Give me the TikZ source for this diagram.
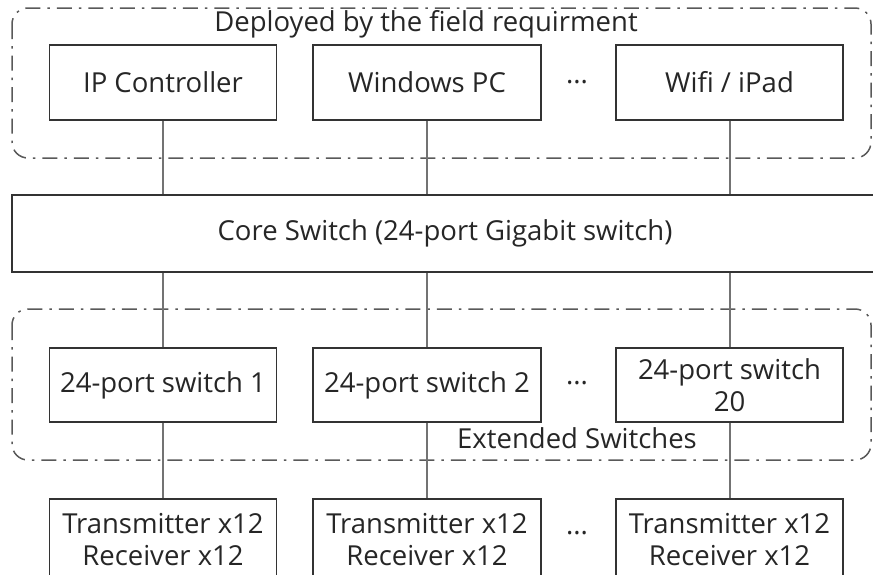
\documentclass[tikz,border=0pt]{standalone}
\usepackage{fontspec}
\setmainfont{Open Sans}
\begin{document}
\begin{tikzpicture}[x=1pt,y=-1pt,
  box/.style={draw=black!80, line width=1.4pt, fill=white, inner sep=0pt, align=center, text=black!85},
  link/.style={draw=black!55, line width=2pt},
  group/.style={draw=black!65, line width=1.5pt, rounded corners=16pt, dash pattern=on 15pt off 7pt on 2.5pt off 7pt},
  lbl/.style={text=black!85, inner sep=0pt},
  txt/.style={font=\fontsize{27.5}{32}\selectfont}
]
\useasboundingbox (0,0) rectangle (873,574);
\clip (0,0) rectangle (873,574);
% group boxes
\draw[group] (12,8) rectangle (871,158);
\draw[group] (12,309) rectangle (871,460);
\node[lbl,txt] (deplbl) at (426,24) {Deployed by the field requirment};
\node[lbl,txt] (extlbl) at (577,438) {Extended Switches};
% top row
\node[box,txt,minimum width=227pt,minimum height=75pt] (ipc) at (163,82.5) {IP Controller};
\node[box,txt,minimum width=228pt,minimum height=75pt] (wpc) at (427,82.5) {Windows PC};
\node[box,txt,minimum width=227pt,minimum height=75pt] (wifi) at (729.5,82.5) {Wifi / iPad};
\node[lbl,txt] (dots1) at (577,82) {...};
% core
\node[box,txt,minimum width=866pt,minimum height=77pt] (core) at (445,233.5) {Core Switch (24-port Gigabit switch)};
% switches
\node[box,txt,minimum width=227pt,minimum height=74pt] (sw1) at (163,385) {24-port switch 1};
\node[box,txt,minimum width=228pt,minimum height=74pt] (sw2) at (427,385) {24-port switch 2};
\node[box,txt,minimum width=227pt,minimum height=74pt] (sw20) at (729.5,385) {24-port switch\\20};
\node[lbl,txt] (dots2) at (577,383) {...};
% bottom
\node[box,txt,minimum width=227pt,minimum height=82pt] (tr1) at (163,540) {Transmitter x12\\Receiver x12};
\node[box,txt,minimum width=228pt,minimum height=82pt] (tr2) at (427,540) {Transmitter x12\\Receiver x12};
\node[box,txt,minimum width=227pt,minimum height=82pt] (tr20) at (729.5,540) {Transmitter x12\\Receiver x12};
\node[lbl,txt] (dots3) at (577,533) {...};
% links
\draw[link] (ipc.south) -- (ipc.south |- core.north);
\draw[link] (wpc.south) -- (wpc.south |- core.north);
\draw[link] (wifi.south) -- (wifi.south |- core.north);
\draw[link] (sw1.north) -- (sw1.north |- core.south);
\draw[link] (sw2.north) -- (sw2.north |- core.south);
\draw[link] (sw20.north) -- (sw20.north |- core.south);
\draw[link] (sw1.south) -- (tr1.north);
\draw[link] (sw2.south) -- (tr2.north);
\draw[link] (sw20.south) -- (tr20.north);
\end{tikzpicture}
\end{document}
